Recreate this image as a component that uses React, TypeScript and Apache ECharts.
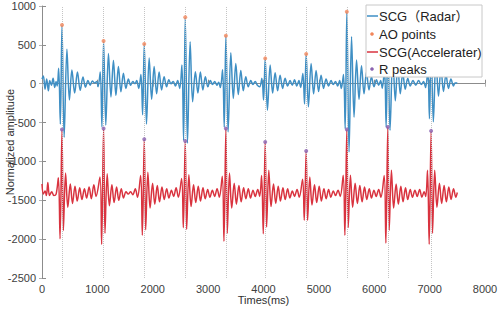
import React, { useEffect, useRef } from "react";
import * as echarts from "echarts";

const FONT = "'Liberation Sans', Arial, 'Noto Sans CJK SC', sans-serif";

const beatTimes = [361, 1112, 1847, 2587, 3321, 4031, 4771, 5505, 6245, 7027];
const aoValues = [755, 549, 510, 854, 617, 326, 381, 927, 600, 500];
const rPeakValues = [-589, -576, -714, -736, -576, -749, -865, -589, -556, -607];

const radarSCG: [number, number][] = [
  [0, 60], [25, 100], [55, -70], [85, 60], [115, -90], [140, 40], [170, -20], [200, 70], [230, -50], [255, 30], [275, -30],
  [301, 200], [331, -520], [361, 755], [400, -690], [450, 445], [495, -210], [540, 175], [590, -120], [640, 150], [690, -85],
  [740, 85], [785, -45], [830, 40], [870, -20], [910, 35], [950, 10], [990, 30], [1012, -40],
  [1052, 150], [1082, -555], [1112, 549], [1152, -533], [1200, 390], [1245, -170], [1290, 300], [1335, -150], [1380, 220],
  [1425, -105], [1470, 135], [1515, -60], [1560, 60], [1600, -20], [1640, 30], [1680, 0], [1710, 40], [1747, -60],
  [1787, 120], [1817, -400], [1847, 510], [1887, -520], [1935, 330], [1980, -200], [2025, 220], [2070, -130], [2115, 150],
  [2160, -80], [2205, 90], [2250, -40], [2290, 50], [2330, 0], [2370, 30], [2410, -30], [2450, 40], [2487, -60],
  [2527, 240], [2557, -730], [2587, 854], [2627, -765], [2675, 540], [2720, -233], [2770, 153], [2815, -120], [2860, 150],
  [2905, -80], [2950, 90], [2995, -40], [3040, 40], [3080, -10], [3120, 30], [3160, -20], [3190, 20], [3221, -50],
  [3261, 180], [3291, -560], [3321, 617], [3361, -620], [3410, 400], [3455, -190], [3500, 260], [3545, -140], [3590, 170],
  [3635, -90], [3680, 90], [3725, -40], [3770, 40], [3810, -10], [3850, 30], [3890, -20], [3931, -40],
  [3971, 70], [4001, -210], [4031, 326], [4071, -340], [4120, 240], [4165, -120], [4210, 140], [4255, -90], [4300, 110],
  [4345, -60], [4390, 70], [4435, -30], [4480, 40], [4520, -20], [4560, 50], [4600, -30], [4640, 40], [4671, -50],
  [4711, 130], [4741, -260], [4771, 381], [4811, -298], [4860, 260], [4905, -130], [4950, 170], [4995, -100], [5040, 110],
  [5085, -60], [5130, 60], [5175, -30], [5220, 40], [5260, -10], [5300, 30], [5340, -30], [5375, 40], [5405, -60],
  [5445, 120], [5475, -580], [5505, 927], [5545, -878], [5590, 604], [5635, -430], [5680, 304], [5725, -200], [5770, 230],
  [5815, -130], [5860, 150], [5905, -80], [5950, 90], [5995, -40], [6040, 50], [6080, -20], [6115, 40], [6145, -60],
  [6185, 200], [6215, -560], [6245, 600], [6285, -598], [6335, 380], [6380, -220], [6425, 250], [6470, -130], [6515, 140],
  [6560, -70], [6605, 70], [6650, -30], [6700, 40], [6750, -20], [6800, 40], [6850, -10], [6890, 30], [6927, -50],
  [6967, 170], [6997, -450], [7027, 500], [7067, -490], [7115, 330], [7160, -160], [7205, 200], [7250, -100], [7295, 120],
  [7340, -60], [7385, 60], [7430, -30], [7460, 10], [7500, 10],
];

const accelSCG: [number, number][] = [
  [0, -1290], [25, -1420], [55, -1380], [80, -1440], [105, -1270], [135, -1440], [175, -1390], [215, -1440], [255, -1420],
  [296, -1210], [326, -1995], [361, -589], [386, -1890], [426, -1150], [466, -1590], [511, -1290], [551, -1540], [596, -1320],
  [636, -1510], [681, -1340], [721, -1490], [766, -1350], [806, -1470], [851, -1330], [891, -1480], [936, -1300], [976, -1450],
  [1047, -1200], [1077, -2067], [1112, -576], [1137, -1925], [1177, -1160], [1217, -1570], [1262, -1300], [1302, -1530],
  [1347, -1330], [1387, -1500], [1432, -1350], [1472, -1470], [1517, -1390], [1557, -1420], [1600, -1390], [1640, -1430],
  [1685, -1350], [1725, -1460],
  [1782, -1180], [1812, -1951], [1847, -714], [1872, -1880], [1912, -1140], [1952, -1600], [1997, -1280], [2037, -1550],
  [2082, -1310], [2122, -1520], [2167, -1330], [2207, -1490], [2252, -1350], [2292, -1470], [2337, -1370], [2377, -1450],
  [2422, -1340], [2462, -1460],
  [2522, -1220], [2552, -1852], [2587, -736], [2612, -1874], [2652, -1170], [2692, -1580], [2737, -1300], [2777, -1530],
  [2822, -1320], [2862, -1510], [2907, -1340], [2947, -1480], [2992, -1360], [3032, -1460], [3077, -1370], [3117, -1450],
  [3162, -1350], [3202, -1460],
  [3256, -1190], [3286, -2028], [3321, -576], [3346, -1925], [3386, -1150], [3426, -1600], [3471, -1280], [3511, -1550],
  [3556, -1310], [3596, -1520], [3641, -1340], [3681, -1480], [3726, -1350], [3766, -1470], [3811, -1370], [3851, -1450],
  [3896, -1360], [3931, -1450],
  [3966, -1180], [3996, -1930], [4031, -749], [4056, -1844], [4096, -1113], [4136, -1580], [4181, -1290], [4221, -1540],
  [4266, -1320], [4306, -1510], [4351, -1340], [4391, -1490], [4436, -1350], [4476, -1470], [4521, -1380], [4561, -1450],
  [4606, -1360], [4646, -1460],
  [4706, -1230], [4736, -1758], [4771, -865], [4796, -1758], [4836, -1200], [4876, -1560], [4921, -1300], [4961, -1530],
  [5006, -1320], [5046, -1510], [5091, -1350], [5131, -1480], [5176, -1360], [5216, -1460], [5261, -1380], [5301, -1440],
  [5346, -1370], [5386, -1450],
  [5440, -1178], [5470, -1951], [5505, -589], [5530, -1850], [5570, -1178], [5610, -1590], [5655, -1280], [5695, -1540],
  [5740, -1310], [5780, -1520], [5825, -1330], [5865, -1490], [5910, -1350], [5950, -1470], [5995, -1370], [6035, -1450],
  [6080, -1360], [6120, -1460],
  [6180, -1180], [6210, -2050], [6245, -556], [6270, -1887], [6310, -1113], [6350, -1600], [6395, -1290], [6435, -1550],
  [6480, -1320], [6520, -1520], [6565, -1340], [6605, -1490], [6650, -1360], [6690, -1460], [6735, -1370], [6775, -1450],
  [6820, -1360], [6860, -1460], [6900, -1390], [6930, -1450],
  [6962, -1113], [6992, -2067], [7027, -607], [7052, -1925], [7092, -1113], [7132, -1590], [7177, -1280], [7217, -1540],
  [7262, -1310], [7302, -1520], [7347, -1330], [7387, -1490], [7432, -1350], [7472, -1460], [7500, -1400],
];

const BLUE = "#3f8fc4";
const RED = "#d9333f";
const ORANGE = "#f2865a";
const PURPLE = "#8a62b0";
const AXIS = "#8c8c8c";

export default function App() {
  const ref = useRef<HTMLDivElement>(null);
  useEffect(() => {
    const chart = echarts.init(ref.current!, null, { renderer: "svg" });
    const tickLabel = { color: "#404040", fontSize: 11, fontFamily: FONT, formatter: (v: number) => String(v) };
    const legendText = (text: string, y: number) => ({
      type: "text", z: 101, x: 379, y,
      style: { text, fontSize: 13, fontFamily: FONT, fill: "#222", verticalAlign: "middle" },
    });
    chart.setOption({
      animation: false,
      backgroundColor: "#ffffff",
      grid: { left: 42, right: 13, top: 6, bottom: 32, containLabel: false, outerBoundsMode: "none" },
      xAxis: [
        {
          type: "value", min: 0, max: 8000, interval: 1000,
          axisLine: { show: true, lineStyle: { color: AXIS } },
          axisTick: { inside: true, length: 4, lineStyle: { color: AXIS } },
          axisLabel: { ...tickLabel, margin: 5 },
          splitLine: { show: false },
          name: "Times(ms)", nameLocation: "middle", nameGap: 16, nameMoveOverlap: false,
          nameTextStyle: { color: "#303030", fontSize: 11, fontFamily: FONT },
        },
        {
          type: "value", position: "top", min: 0, max: 8000, interval: 1000,
          axisLine: { show: false },
          axisTick: { inside: true, length: 3, lineStyle: { color: "#b0b0b0" } },
          axisLabel: { show: false }, splitLine: { show: false },
        },
      ],
      yAxis: [
        {
          type: "value", min: -2500, max: 1000, interval: 500,
          axisLine: { show: true, lineStyle: { color: AXIS } },
          axisTick: { show: true, inside: true, length: 4, lineStyle: { color: AXIS } },
          axisLabel: { ...tickLabel, margin: 6 },
          splitLine: { show: false },
          name: "Normalized amplitude", nameLocation: "middle", nameGap: 27, nameMoveOverlap: false,
          nameTextStyle: { color: "#303030", fontSize: 11, fontFamily: FONT },
        },
        {
          type: "value", position: "right", min: -2500, max: 1000, interval: 500,
          axisLine: { show: false },
          axisTick: { show: true, inside: true, length: 3, lineStyle: { color: "#b0b0b0" } },
          axisLabel: { show: false }, splitLine: { show: false },
        },
      ],
      series: [
        {
          name: "SCG（Radar）", type: "line", data: radarSCG, smooth: 0.35, symbol: "none",
          lineStyle: { color: BLUE, width: 1.5 }, z: 2,
          markLine: {
            silent: true, symbol: "none", label: { show: false },
            lineStyle: { type: "dotted", color: "#c4c4c4", width: 1 },
            data: beatTimes.map((t) => ({ xAxis: t })),
          },
        },
        {
          name: "AO points", type: "scatter", symbolSize: 4, z: 5,
          itemStyle: { color: ORANGE },
          data: beatTimes.map((t, i) => [t, aoValues[i]]),
        },
        {
          name: "SCG(Accelerater)", type: "line", data: accelSCG, smooth: 0.35, symbol: "none",
          lineStyle: { color: RED, width: 1.5 }, z: 3,
        },
        {
          name: "R peaks", type: "scatter", symbolSize: 4, z: 5,
          itemStyle: { color: PURPLE },
          data: beatTimes.map((t, i) => [t, rPeakValues[i]]),
        },
      ],
      graphic: [
        { type: "rect", z: 100, shape: { x: 366, y: 5, width: 116, height: 72 }, style: { fill: "#ffffff", stroke: "#c8c8c8", lineWidth: 1 } },
        { type: "line", z: 101, shape: { x1: 367, y1: 16, x2: 378, y2: 16 }, style: { stroke: BLUE, lineWidth: 1.5 } },
        legendText("SCG（Radar）", 16),
        { type: "circle", z: 101, shape: { cx: 372, cy: 34, r: 1.8 }, style: { fill: ORANGE } },
        legendText("AO points", 34),
        { type: "line", z: 101, shape: { x1: 367, y1: 52, x2: 378, y2: 52 }, style: { stroke: RED, lineWidth: 1.5 } },
        legendText("SCG(Accelerater)", 52),
        { type: "circle", z: 101, shape: { cx: 372, cy: 69, r: 1.8 }, style: { fill: PURPLE } },
        legendText("R peaks", 69),
      ],
    });
    return () => chart.dispose();
  }, []);
  return <div ref={ref} style={{ position: "absolute", left: 0, top: 0, width: 498, height: 310 }} />;
}
